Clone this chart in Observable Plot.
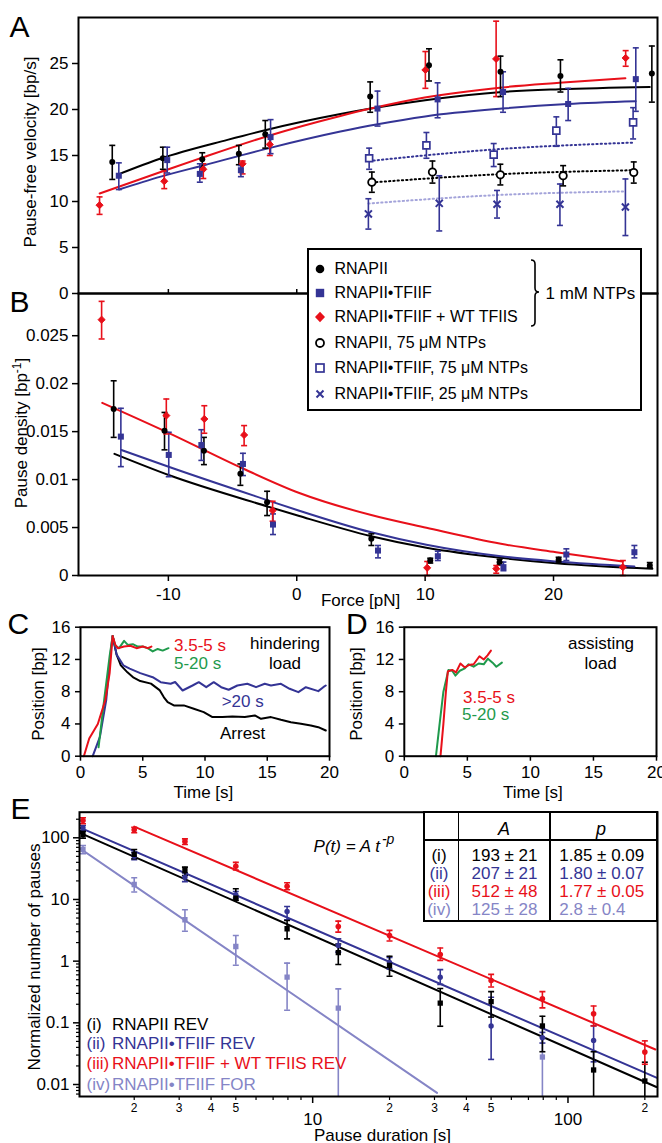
<!DOCTYPE html>
<html><head><meta charset="utf-8">
<script src="https://cdn.jsdelivr.net/npm/d3@7"></script>
<script src="https://cdn.jsdelivr.net/npm/@observablehq/plot@0.6"></script>
<style>
body{margin:0;background:#fff;}
#fig{position:relative;width:662px;height:1143px;overflow:hidden;background:#fff;font-family:"Liberation Sans",Arial,Helvetica,sans-serif;}
.t{position:absolute;line-height:1;white-space:nowrap;}
</style></head>
<body><div id="fig"></div>
<script>
// ---------------- DATA ----------------
// Panel A: pause-free velocity vs force
const aBlackF  = [-14.37,-10.43,-7.36,-4.51,-2.45,5.72,10.3,15.87,20.54,27.66];
const aBlackV  = [14.3,14.7,14.6,15.2,17.3,21.4,24.8,24.1,23.65,23.9];
const aBlackHi = [16.1,15.9,15.3,16.1,18.8,23.0,26.6,25.8,25.4,26.9];
const aBlackLo = [12.4,13.5,13.7,14.0,15.8,19.7,23.1,21.4,21.9,20.8];
const aBlueF  = [-13.86,-10.09,-7.55,-4.35,-2.04,6.29,10.97,16.07,21.14,26.41];
const aBlueV  = [12.8,14.5,13.0,13.4,17.0,20.1,21.1,21.9,20.6,23.3];
const aBlueHi = [14.2,15.9,14.1,13.9,18.9,22.0,22.9,24.1,22.3,26.7];
const aBlueLo = [11.3,13.1,12.1,12.7,15.2,18.2,19.1,19.7,18.8,19.8];
const aRedF  = [-15.36,-10.32,-7.28,-4.22,-2.1,10.02,15.53,25.62];
const aRedV  = [9.6,12.2,13.5,14.1,16.2,24.3,25.5,25.6];
const aRedHi = [10.5,13.3,14.1,14.4,17.0,26.3,29.6,26.4];
const aRedLo = [8.6,11.4,12.5,13.0,15.0,22.3,21.4,24.7];
const aOpenCircF  = [5.85,10.57,15.86,20.75,26.25];
const aOpenCircV  = [12.1,13.2,12.9,12.8,13.15];
const aOpenCircHi = [13.2,14.4,14.05,13.9,14.3];
const aOpenCircLo = [11.0,12.0,11.8,11.7,12.0];
const aOpenSqF  = [5.64,10.1,15.34,20.22,26.2];
const aOpenSqV  = [14.7,16.1,15.1,17.7,18.6];
const aOpenSqHi = [15.8,17.5,16.3,19.2,20.2];
const aOpenSqLo = [13.5,14.7,13.8,16.0,16.8];
const aCrossF  = [5.58,11.1,15.6,20.5,25.6];
const aCrossV  = [8.65,9.8,9.7,9.7,9.4];
const aCrossHi = [10.3,12.8,11.2,11.9,12.45];
const aCrossLo = [7.0,6.8,8.2,7.4,6.3];
// fitted curves
const aFitBlackF = [-13.85,-10.6,-5.4,-2.3,3.4,5.77,10.0,16.0,20.45,27.5];
const aFitBlackV = [12.97,14.67,16.7,17.8,19.5,20.1,21.0,21.9,22.2,22.45];
const aFitRedF = [-15.35,-10.6,-7.2,-2.3,3.4,5.77,9.97,16.0,20.45,25.6];
const aFitRedV = [10.87,13.2,14.85,17.1,19.3,20.1,21.3,22.4,22.9,23.4];
const aFitBlueF = [-13.85,-10.6,-7.2,-2.3,3.4,6.3,10.0,16.0,21.1,26.4];
const aFitBlueV = [11.3,12.7,13.95,15.75,17.6,18.4,19.25,20.1,20.6,20.9];
const aDotSqF = [5.64,15.3,26.2],  aDotSqV = [14.4,15.65,16.4];
const aDotCircF = [5.85,15.87,26.25], aDotCircV = [12.07,12.97,13.4];
const aDotCrossF = [5.58,15.6,25.6], aDotCrossV = [9.78,10.7,11.1];
const velTicks = [0,5,10,15,20,25];

// Panel B: pause density vs force
const bBlackF  = [-14.26,-10.3,-7.23,-4.39,-2.31,5.81,10.4,15.8,20.4,27.5];
const bBlackD  = [0.01736,0.0151,0.0130,0.0106,0.00764,0.00382,0.00156,0.00139,0.00163,0.00104];
const bBlackHi = [0.0203,0.0170,0.0144,0.01163,0.00878,0.00434,0.0018,0.0017,0.0019,0.00135];
const bBlackLo = [0.0144,0.0131,0.01156,0.0094,0.00625,0.00313,0.0013,0.0011,0.0014,0.0008];
const bBlueF  = [-13.7,-9.97,-7.43,-4.19,-1.85,6.33,10.99,16.1,21.0,26.3];
const bBlueD  = [0.01448,0.01257,0.0136,0.01163,0.00531,0.0026,0.00201,0.00087,0.00219,0.00243];
const bBlueHi = [0.01743,0.01493,0.0152,0.01274,0.00642,0.00313,0.00253,0.0014,0.00278,0.00313];
const bBlueLo = [0.01135,0.0103,0.0120,0.01042,0.00427,0.00184,0.00156,0.0005,0.00156,0.00184];
const bRedF  = [-15.2,-10.16,-7.2,-4.1,-1.88,10.16,15.54,25.4];
const bRedD  = [0.02667,0.01667,0.01632,0.01465,0.00677,0.0008,0.0007,0.00087];
const bRedHi = [0.02858,0.0184,0.0177,0.01563,0.00774,0.00146,0.00104,0.00156];
const bRedLo = [0.02466,0.01476,0.01483,0.01354,0.00566,0.0,0.00024,0.0];
const bFitRedF = [-15.15,-9.87,-4.1,0.2,5.8,10.1,15.9,20.2,25.4];
const bFitRedD = [0.0180,0.0148,0.0111,0.0086,0.0063,0.00497,0.0033,0.00243,0.00146];
const bFitBlueF = [-13.66,-9.87,-2.28,0.2,5.8,10.1,15.9,20.2,26.3];
const bFitBlueD = [0.01309,0.01128,0.00785,0.00675,0.0045,0.0032,0.002,0.00146,0.00094];
const bFitBlackF = [-14.2,-9.87,-2.28,0.2,5.8,10.1,15.9,20.2,27.7];
const bFitBlackD = [0.01268,0.01042,0.0072,0.0062,0.0041,0.0029,0.00184,0.00128,0.0007];
const densTicks = [0,0.005,0.01,0.015,0.02,0.025];
const densTickLabels = ["0","0.005","0.01","0.015","0.02","0.025"];
const forceTicks = [-10,0,10,20];
const forceTickLabels = ["-10","0","10","20"];

// Panel C: traces, hindering load
const cRedT = [0.27,0.7,1.39,2.0,2.34,2.58,2.8,3.0,3.5,4.0,4.5,5.0,5.4,5.7];
const cRedP = [0,2.2,4.0,7.0,10.3,14.9,13.8,13.4,13.6,13.7,13.4,13.6,13.4,13.6];
const cGreenT = [1.45,1.9,2.34,2.58,2.8,3.1,3.5,3.8,4.2,4.6,5.0,5.4,5.8,6.2,6.6,7.07];
const cGreenP = [1.1,7.0,12.4,14.9,13.7,13.4,14.3,13.8,13.9,13.6,13.6,13.4,13.0,13.3,13.1,13.4];
const cBlueT = [0.98,1.56,2.07,2.47,2.58,2.9,3.44,3.95,4.8,5.8,6.44,7.24,7.6,8.2,9.0,9.5,10.1,10.7,11.3,11.9,12.6,13.4,14.1,14.8,15.3,16.1,16.8,17.5,18.1,19.1,19.5,19.7];
const cBlueP = [0,2.4,7.0,13.6,14.9,12.6,11.27,10.86,10.3,9.8,9.18,8.98,9.2,8.15,8.77,9.18,8.56,9.18,8.56,8.24,8.77,8.98,8.56,8.98,8.77,8.98,8.36,7.94,8.56,8.07,8.56,8.77];
const cBlackT = [2.58,2.9,3.24,3.77,4.27,4.8,5.66,6.35,6.7,7.0,7.5,8.3,9.1,9.9,10.6,11.4,12.2,13.2,14.0,14.5,15.3,16.1,16.9,17.7,18.5,19.1,19.7];
const cBlackP = [14.9,12.6,11.27,10.4,9.74,9.32,9.0,8.2,7.3,6.7,6.3,6.3,5.89,5.47,4.85,4.85,4.93,4.85,5.06,4.64,4.85,4.52,4.22,4.02,3.81,3.6,3.19];
// Panel D: traces, assisting load
const dRedT = [2.87,3.1,3.3,3.45,3.8,4.1,4.45,4.8,5.1,5.5,5.96,6.3,6.6,6.87];
const dRedP = [0,4.0,8.0,10.5,10.7,10.4,11.5,11.0,11.3,11.4,12.4,12.0,12.5,13.1];
const dGreenT = [2.51,2.8,3.1,3.5,3.8,4.05,4.4,4.8,5.1,5.5,5.9,6.3,6.63,7.0,7.3,7.74];
const dGreenP = [0,4.0,8.0,10.7,10.6,10.0,10.6,10.9,11.4,11.1,11.5,11.4,12.1,11.6,11.1,11.6];
const posTicks = [0,4,8,12,16];
const timeTicks = [0,5,10,15,20];

// Panel E: pause-duration distributions
const eT = [1.26,2.0,3.16,5.0,7.94,12.6,20.0,31.6,50.0,79.4,126,200];
const eIN  = [112,53.7,29.5,10.5,3.35,1.37,0.85,0.208,0.22,0.089,0.0172,0.0114];
const eIHi = [128,64.6,33.4,14.9,4.55,1.9,1.2,0.36,0.32,0.128,0.034,0.023];
const eILo = [98.5,45.7,24.5,9.7,2.3,0.88,0.57,0.088,0.124,0.034,0.004,0.004];
const eIIT  = [1.26,2.0,3.16,5.0,7.94,12.6,20.0,31.6,50.0,79.4,126];
const eIIN  = [145,50,23,12.0,6.4,1.8,0.95,0.55,0.0887,0.0575,0.0519];
const eIIHi = [158,58,27,13.5,7.7,2.3,1.15,0.73,0.26,0.07,0.0897];
const eIILo = [131,44,19.5,10.5,4.7,1.4,0.75,0.42,0.0255,0.047,0.0233];
const eIIIN  = [191,134.8,87,34.6,16.4,3.65,2.61,1.28,0.486,0.245,0.14,0.0335];
const eIIIHi = [211,148,96,40,18.7,4.46,3.15,1.63,0.61,0.32,0.187,0.051];
const eIIILo = [169,121,78,30,14.4,2.95,2.12,1.03,0.38,0.175,0.089,0.0213];
const eIVT  = [1.26,2.0,3.16,5.0,7.94,12.6,79.4];
const eIVN  = [64.6,17.5,4.69,1.73,0.55,0.173,0.0279];
const eIVHi = [75,22.5,6.8,2.6,0.93,0.355,0.0575];
const eIVLo = [55,13.2,3.05,0.86,0.16,0.004,0.004];
const eFitIT = [1.22,222],  eFitIN = [121,0.0091];
const eFitIIT = [1.22,222], eFitIIN = [148,0.0129];
const eFitIIIT = [2.0,220], eFitIIIN = [152,0.037];
const eFitIVT = [1.22,30.7], eFitIVN = [68,0.0073];
const eYTicks = [0.01,0.1,1,10,100];
const eYTickLabels = ["0.01","0.1","1","10","100"];
const eYMinor = [0.007,0.008,0.009,0.02,0.03,0.04,0.05,0.06,0.07,0.08,0.09,0.2,0.3,0.4,0.5,0.6,0.7,0.8,0.9,2,3,4,5,6,7,8,9,20,30,40,50,60,70,80,90,200];
const eXMajor = [10,100];
const eXMajorLabels = ["10","100"];
const eXMinor = [2,3,4,5,6,7,8,9,20,30,40,50,60,70,80,90,200];
const eXMinorLabels = ["2","3","4","5","6","7","8","9","2","3","4","5","6","7","8","9","2"];
const tableRowLabels = ["(i)","(ii)","(iii)","(iv)"];
const tableA = ["193 ± 21","207 ± 21","512 ± 48","125 ± 28"];
const tableP = ["1.85 ± 0.09","1.80 ± 0.07","1.77 ± 0.05","2.8 ± 0.4"];
const eLegendLabels = ["RNAPII REV","RNAPII•TFIIF REV","RNAPII•TFIIF + WT TFIIS REV","RNAPII•TFIIF FOR"];
const abLegendLabels = ["RNAPII","RNAPII•TFIIF","RNAPII•TFIIF + WT TFIIS","RNAPII, 75 μM NTPs","RNAPII•TFIIF, 75 μM NTPs","RNAPII•TFIIF, 25 μM NTPs"];

// ---------------- HELPERS ----------------
const BLACK="#000", BLUE="#343495", RED="#e8101a", GREEN="#1f9a4c", LPURP="#8585c6", LBLUE="#a4a4da";
const SANS = '"Liberation Sans", Arial, Helvetica, sans-serif';
const style = {fontFamily: SANS, fontSize: "17px", background: "transparent", overflow: "visible", color: "#000"};
const fig = document.getElementById("fig");
const rows = (xs, ys, lo, hi) => xs.map((x, i) => ({x, y: ys[i], lo: lo ? lo[i] : null, hi: hi ? hi[i] : null}));
const capSym = {draw(ctx, size) { const w = Math.sqrt(size / Math.PI); ctx.moveTo(-w, 0); ctx.lineTo(w, 0); }};
function err(data, stroke, {sw = 1.6, cap = 3, clip = false} = {}) {
  return [
    Plot.ruleX(data, {x: "x", y1: "lo", y2: "hi", stroke, strokeWidth: sw, clip}),
    Plot.dot(data, {x: "x", y: "hi", symbol: capSym, r: cap, stroke, strokeWidth: sw, fill: "none", clip}),
    Plot.dot(data, {x: "x", y: "lo", symbol: capSym, r: cap, stroke, strokeWidth: sw, fill: "none", clip})
  ];
}
function place(el, left, top) { el.style.position = "absolute"; el.style.left = left + "px"; el.style.top = top + "px"; fig.appendChild(el); return el; }
function txt(html, x, y, {size = 17, color = "#000", anchor = "start", italic = false, rotate = 0} = {}) {
  const d = document.createElement("div");
  d.className = "t";
  d.innerHTML = html;
  d.style.left = x + "px"; d.style.top = y + "px"; d.style.fontSize = size + "px"; d.style.color = color;
  if (italic) d.style.fontStyle = "italic";
  const tx = anchor === "middle" ? "-50%" : anchor === "end" ? "-100%" : "0";
  d.style.transform = `translate(${tx},-50%)` + (rotate ? ` rotate(${rotate}deg)` : "");
  fig.appendChild(d);
  return d;
}
const fmtMap = (ticks, labels) => { const m = new Map(ticks.map((t, i) => [t, labels[i]])); return d => m.get(d) ?? ""; };
const DOTS = "1.3,3";

// ---------------- PANEL A ----------------
const rABlack = rows(aBlackF, aBlackV, aBlackLo, aBlackHi);
const rABlue = rows(aBlueF, aBlueV, aBlueLo, aBlueHi);
const rARed = rows(aRedF, aRedV, aRedLo, aRedHi);
const rAOC = rows(aOpenCircF, aOpenCircV, aOpenCircLo, aOpenCircHi);
const rAOS = rows(aOpenSqF, aOpenSqV, aOpenSqLo, aOpenSqHi);
const rAX = rows(aCrossF, aCrossV, aCrossLo, aCrossHi);
const plotA = Plot.plot({
  width: 662, height: 300, marginLeft: 78, marginRight: 5, marginTop: 17, marginBottom: 7,
  style,
  x: {domain: [-17.0, 28.1], axis: null},
  y: {domain: [0, 30]},
  marks: [
    Plot.axisY({ticks: velTicks, tickSize: 6, tickPadding: 4, label: null, strokeWidth: 1.5}),
    Plot.line(rows(aDotCrossF, aDotCrossV), {x: "x", y: "y", stroke: LBLUE, strokeWidth: 2, strokeDasharray: DOTS, curve: "monotone-x"}),
    Plot.line(rows(aDotSqF, aDotSqV), {x: "x", y: "y", stroke: BLUE, strokeWidth: 2, strokeDasharray: DOTS, curve: "monotone-x"}),
    Plot.line(rows(aDotCircF, aDotCircV), {x: "x", y: "y", stroke: BLACK, strokeWidth: 2, strokeDasharray: DOTS, curve: "monotone-x"}),
    ...err(rAX, BLUE), ...err(rAOS, BLUE), ...err(rAOC, BLACK),
    Plot.dot(rAX, {x: "x", y: "y", symbol: "times", r: 3.3, stroke: BLUE, strokeWidth: 2}),
    Plot.dot(rAOS, {x: "x", y: "y", symbol: "square", r: 3.9, fill: "white", stroke: BLUE, strokeWidth: 1.7}),
    Plot.dot(rAOC, {x: "x", y: "y", symbol: "circle", r: 3.7, fill: "white", stroke: BLACK, strokeWidth: 1.8}),
    Plot.line(rows(aFitBlueF, aFitBlueV), {x: "x", y: "y", stroke: BLUE, strokeWidth: 2, curve: "monotone-x"}),
    Plot.line(rows(aFitBlackF, aFitBlackV), {x: "x", y: "y", stroke: BLACK, strokeWidth: 2, curve: "monotone-x"}),
    Plot.line(rows(aFitRedF, aFitRedV), {x: "x", y: "y", stroke: RED, strokeWidth: 2, curve: "monotone-x"}),
    ...err(rARed, RED), ...err(rABlack, BLACK), ...err(rABlue, BLUE),
    Plot.dot(rARed, {x: "x", y: "y", symbol: "diamond2", r: 3.2, fill: RED, stroke: RED, strokeWidth: 1}),
    Plot.dot(rABlack, {x: "x", y: "y", symbol: "circle", r: 3, fill: BLACK}),
    Plot.dot(rABlue, {x: "x", y: "y", symbol: "square", r: 3.4, fill: BLUE}),
    Plot.frame({strokeWidth: 2})
  ]
});
place(plotA, 0, 0);

// ---------------- PANEL B ----------------
const rBBlack = rows(bBlackF, bBlackD, bBlackLo, bBlackHi);
const rBBlue = rows(bBlueF, bBlueD, bBlueLo, bBlueHi);
const rBRed = rows(bRedF, bRedD, bRedLo, bRedHi);
const plotB = Plot.plot({
  width: 662, height: 330, marginLeft: 78, marginRight: 5, marginTop: 0, marginBottom: 48,
  style,
  x: {domain: [-17.0, 28.1]},
  y: {domain: [0, 0.0294]},
  marks: [
    Plot.axisY({ticks: densTicks, tickFormat: fmtMap(densTicks, densTickLabels), tickSize: 6, tickPadding: 4, label: null, strokeWidth: 1.5}),
    Plot.axisX({ticks: forceTicks, tickFormat: fmtMap(forceTicks, forceTickLabels), tickSize: 6, tickPadding: 6, label: null, strokeWidth: 1.5}),
    Plot.axisX({anchor: "top", ticks: forceTicks, tickSize: 5, tickFormat: () => "", label: null, strokeWidth: 1.5}),
    Plot.line(rows(bFitBlackF, bFitBlackD), {x: "x", y: "y", stroke: BLACK, strokeWidth: 2, curve: "monotone-x"}),
    Plot.line(rows(bFitBlueF, bFitBlueD), {x: "x", y: "y", stroke: BLUE, strokeWidth: 2, curve: "monotone-x"}),
    Plot.line(rows(bFitRedF, bFitRedD), {x: "x", y: "y", stroke: RED, strokeWidth: 2, curve: "monotone-x"}),
    ...err(rBBlack, BLACK), ...err(rBBlue, BLUE), ...err(rBRed, RED),
    Plot.dot(rBBlack, {x: "x", y: "y", symbol: "circle", r: 3, fill: BLACK}),
    Plot.dot(rBBlue, {x: "x", y: "y", symbol: "square", r: 3.4, fill: BLUE}),
    Plot.dot(rBRed, {x: "x", y: "y", symbol: "diamond2", r: 3.2, fill: RED, stroke: RED, strokeWidth: 1}),
    Plot.frame({strokeWidth: 2})
  ]
});
place(plotB, 0, 293);

// ---------------- PANEL C ----------------
const plotC = Plot.plot({
  width: 340, height: 200, marginLeft: 80, marginRight: 11, marginTop: 16.7, marginBottom: 54.3,
  style,
  x: {domain: [0, 20]}, y: {domain: [0, 16]},
  marks: [
    Plot.axisY({ticks: posTicks, tickSize: 5, tickPadding: 5, label: null, strokeWidth: 1.5}),
    Plot.axisX({ticks: timeTicks, tickSize: 5, tickPadding: 5, label: null, strokeWidth: 1.5}),
    Plot.line(rows(cBlackT, cBlackP), {x: "x", y: "y", stroke: BLACK, strokeWidth: 2}),
    Plot.line(rows(cBlueT, cBlueP), {x: "x", y: "y", stroke: BLUE, strokeWidth: 2}),
    Plot.line(rows(cGreenT, cGreenP), {x: "x", y: "y", stroke: GREEN, strokeWidth: 2}),
    Plot.line(rows(cRedT, cRedP), {x: "x", y: "y", stroke: RED, strokeWidth: 2}),
    Plot.frame({strokeWidth: 2})
  ]
});
place(plotC, 0, 610);

// ---------------- PANEL D ----------------
const plotD = Plot.plot({
  width: 322, height: 200, marginLeft: 63.8, marginRight: 6, marginTop: 16.7, marginBottom: 54.3,
  style,
  x: {domain: [0, 20]}, y: {domain: [0, 16]},
  marks: [
    Plot.axisY({ticks: posTicks, tickSize: 5, tickPadding: 5, label: null, strokeWidth: 1.5}),
    Plot.axisX({ticks: timeTicks, tickSize: 5, tickPadding: 5, label: null, strokeWidth: 1.5}),
    Plot.line(rows(dGreenT, dGreenP), {x: "x", y: "y", stroke: GREEN, strokeWidth: 2}),
    Plot.line(rows(dRedT, dRedP), {x: "x", y: "y", stroke: RED, strokeWidth: 2}),
    Plot.frame({strokeWidth: 2})
  ]
});
place(plotD, 340, 610);

// ---------------- PANEL E ----------------
const rEI = rows(eT, eIN, eILo, eIHi);
const rEII = rows(eIIT, eIIN, eIILo, eIIHi);
const rEIII = rows(eT, eIIIN, eIIILo, eIIIHi);
const rEIV = rows(eIVT, eIVN, eIVLo, eIVHi);
const plotE = Plot.plot({
  width: 662, height: 343, marginLeft: 79, marginRight: 5, marginTop: 11.7, marginBottom: 47,
  style,
  x: {type: "log", domain: [1.221, 224.2]},
  y: {type: "log", domain: [0.00639, 260]},
  marks: [
    Plot.axisY({ticks: eYTicks, tickFormat: fmtMap(eYTicks, eYTickLabels), tickSize: 6, tickPadding: 4, label: null, strokeWidth: 1.5}),
    Plot.axisY({ticks: eYMinor, tickFormat: () => "", tickSize: 3, label: null, strokeWidth: 1.2}),
    Plot.axisX({ticks: eXMinor, tickFormat: fmtMap(eXMinor, eXMinorLabels), tickSize: 4, tickPadding: 3, fontSize: 12, label: null, strokeWidth: 1.2}),
    Plot.axisX({ticks: eXMajor, tickFormat: fmtMap(eXMajor, eXMajorLabels), tickSize: 7, tickPadding: 9, label: null, strokeWidth: 1.5}),
    Plot.line(rows(eFitIVT, eFitIVN), {x: "x", y: "y", stroke: LPURP, strokeWidth: 2, clip: true}),
    Plot.line(rows(eFitIT, eFitIN), {x: "x", y: "y", stroke: BLACK, strokeWidth: 2, clip: true}),
    Plot.line(rows(eFitIIT, eFitIIN), {x: "x", y: "y", stroke: BLUE, strokeWidth: 2, clip: true}),
    Plot.line(rows(eFitIIIT, eFitIIIN), {x: "x", y: "y", stroke: RED, strokeWidth: 2, clip: true}),
    ...err(rEIV, LPURP, {clip: true}), ...err(rEII, BLUE, {clip: true}), ...err(rEI, BLACK, {clip: true}), ...err(rEIII, RED, {clip: true}),
    Plot.dot(rEIV, {x: "x", y: "y", symbol: "square", r: 3, fill: LPURP, clip: true}),
    Plot.dot(rEII, {x: "x", y: "y", symbol: "circle", r: 2.7, fill: BLUE, clip: true}),
    Plot.dot(rEI, {x: "x", y: "y", symbol: "square", r: 3, fill: BLACK, clip: true}),
    Plot.dot(rEIII, {x: "x", y: "y", symbol: "circle", r: 2.8, fill: RED, clip: true}),
    Plot.frame({strokeWidth: 2})
  ]
});
place(plotE, 0, 800);

// ---------------- LEGEND A/B ----------------
const leg = document.createElement("div");
leg.style.cssText = "position:absolute;left:307px;top:248px;width:335px;height:163px;border:2px solid #000;background:#fff;box-sizing:border-box;";
fig.appendChild(leg);
const legY = [269.3, 293, 317.3, 342.7, 368.3, 394];
const legSym = [
  `<circle cx="7" cy="7" r="4.3" fill="${BLACK}"/>`,
  `<rect x="2.8" y="2.8" width="8.4" height="8.4" fill="${BLUE}"/>`,
  `<path d="M7,1.8 L12,7 L7,12.2 L2,7Z" fill="${RED}"/>`,
  `<circle cx="7" cy="7" r="4" fill="none" stroke="${BLACK}" stroke-width="1.8"/>`,
  `<rect x="3" y="3" width="8" height="8" fill="none" stroke="${BLUE}" stroke-width="1.7"/>`,
  `<path d="M3.5,3.5 L10.5,10.5 M10.5,3.5 L3.5,10.5" stroke="${BLUE}" stroke-width="2"/>`
];
abLegendLabels.forEach((lab, i) => {
  const s = document.createElementNS("http://www.w3.org/2000/svg", "svg");
  s.setAttribute("width", 14); s.setAttribute("height", 14);
  s.innerHTML = legSym[i];
  place(s, 313, legY[i] - 7);
  txt(lab, 334.5, legY[i], {size: 16});
});
const br = document.createElementNS("http://www.w3.org/2000/svg", "svg");
br.setAttribute("width", 20); br.setAttribute("height", 80);
br.innerHTML = `<path d="M2,1 Q6,1 6,5 L6,29 Q6,33 10,33 Q6,33 6,37 L6,63 Q6,67 2,67" fill="none" stroke="#000" stroke-width="1.6"/>`;
place(br, 529, 259);
txt("1 mM NTPs", 545.5, 293.3, {size: 17});

// ---------------- TABLE E ----------------
const tb = document.createElement("div");
tb.style.cssText = "position:absolute;left:423px;top:811px;width:235px;height:111px;border:2px solid #000;background:#fff;box-sizing:border-box;";
fig.appendChild(tb);
[[458.3, 811, 1.5, 111], [550, 811, 1.5, 111], [423, 840, 235, 1.5]].forEach(([x, y, w, h]) => {
  const l = document.createElement("div");
  l.style.cssText = `position:absolute;left:${x - (w < 3 ? w / 2 : 0)}px;top:${y - (h < 3 ? h / 2 : 0)}px;width:${w}px;height:${h}px;background:#000;`;
  fig.appendChild(l);
});
txt("A", 504, 829, {size: 18, italic: true, anchor: "middle"});
txt("p", 601, 829, {size: 18, italic: true, anchor: "middle"});
const rowColors = [BLACK, BLUE, RED, LPURP];
const rowY = [855, 873.3, 891, 909];
tableRowLabels.forEach((l, i) => {
  txt(l, 439, rowY[i], {size: 17, color: rowColors[i], anchor: "middle"});
  txt(tableA[i], 504.5, rowY[i], {size: 17, color: rowColors[i], anchor: "middle"});
  txt(tableP[i], 559.3, rowY[i], {size: 17, color: rowColors[i]});
});
txt('P(t) = A t<span style="font-size:14px;position:relative;top:-8px;margin-left:2px">-p</span>', 313.6, 845.5, {size: 17, italic: true});
const eLegY = [1024, 1042.7, 1063.3, 1084];
eLegendLabels.forEach((l, i) => {
  txt(tableRowLabels[i], 86.5, eLegY[i], {size: 17, color: rowColors[i]});
  txt(l, 112, eLegY[i], {size: 17, color: rowColors[i]});
});

// ---------------- TEXT: panel letters, axis titles, annotations ----------------
txt("A", 9.5, 26.7, {size: 30});
txt("B", 9.5, 301.7, {size: 30});
txt("C", 7.5, 623.8, {size: 30});
txt("D", 346, 623.8, {size: 30});
txt("E", 10.5, 809.3, {size: 30});
txt("Pause-free velocity [bp/s]", 29.6, 152, {size: 17, anchor: "middle", rotate: -90});
txt('Pause density [bp<span style="font-size:12px;position:relative;top:-6px">-1</span>]', 20.5, 433, {size: 17, anchor: "middle", rotate: -90});
txt("Force [pN]", 360.6, 600, {size: 17, anchor: "middle"});
txt("Position [bp]", 38, 694, {size: 17, anchor: "middle", rotate: -90});
txt("Position [bp]", 356, 694, {size: 17, anchor: "middle", rotate: -90});
txt("Time [s]", 203.4, 791.7, {size: 17, anchor: "middle"});
txt("Time [s]", 532.9, 791.7, {size: 17, anchor: "middle"});
txt("Normalized number of pauses", 34, 956.7, {size: 17, anchor: "middle", rotate: -90});
txt("Pause duration [s]", 382.4, 1135, {size: 17, anchor: "middle"});
txt("3.5-5 s", 174, 645, {size: 17, color: RED});
txt("5-20 s", 174, 663.3, {size: 17, color: GREEN});
txt("hindering", 285, 642.7, {size: 17, anchor: "middle"});
txt("load", 285, 662.7, {size: 17, anchor: "middle"});
txt("&gt;20 s", 221.7, 700.7, {size: 17, color: BLUE});
txt("Arrest", 220, 733.3, {size: 17});
txt("assisting", 601, 642.7, {size: 17, anchor: "middle"});
txt("load", 600.6, 662.7, {size: 17, anchor: "middle"});
txt("3.5-5 s", 463, 696.7, {size: 17, color: RED});
txt("5-20 s", 462, 714, {size: 17, color: GREEN});
</script>
</body></html>
